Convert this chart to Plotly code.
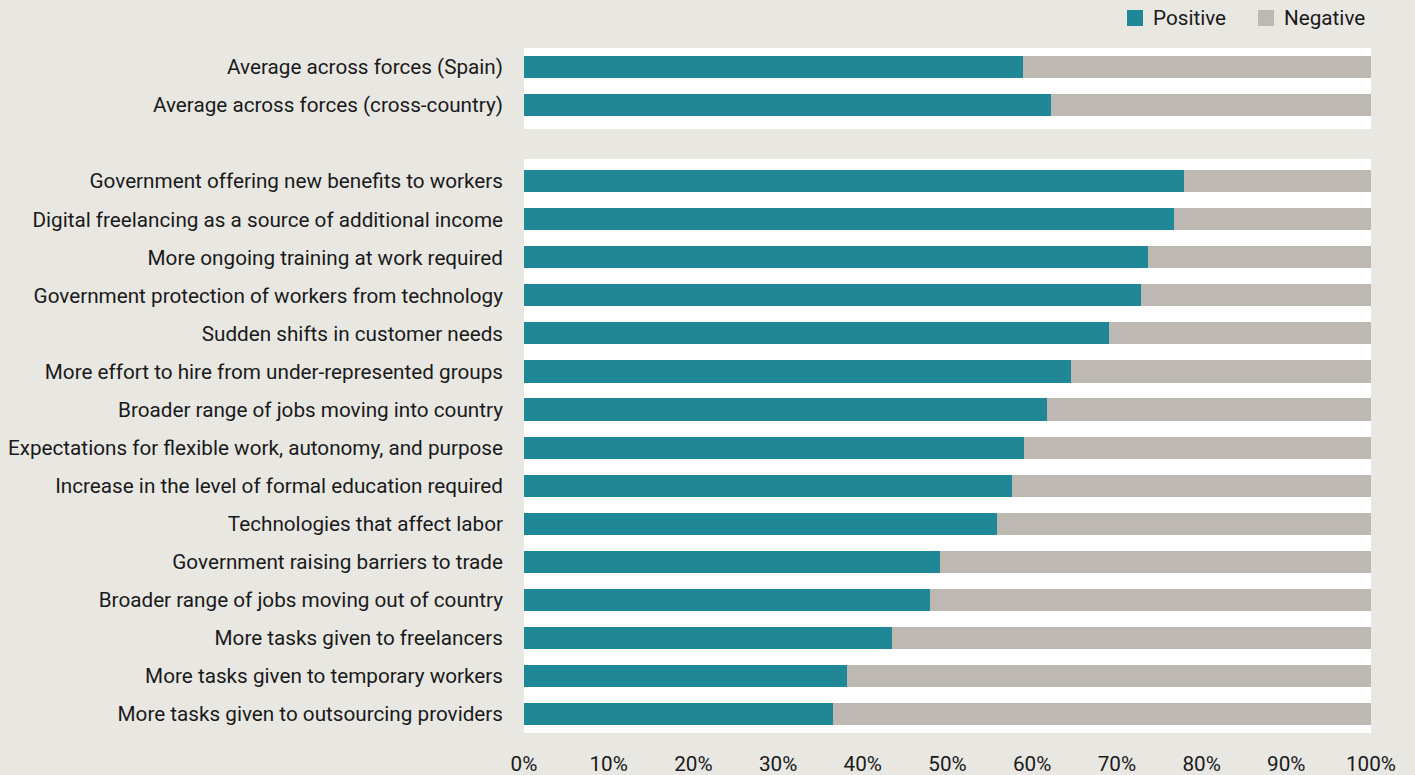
import plotly.graph_objects as go

categories = [
    "Average across forces (Spain)",
    "Average across forces (cross-country)",
    " ",
    "Government offering new benefits to workers",
    "Digital freelancing as a source of additional income",
    "More ongoing training at work required",
    "Government protection of workers from technology",
    "Sudden shifts in customer needs",
    "More effort to hire from under-represented groups",
    "Broader range of jobs moving into country",
    "Expectations for flexible work, autonomy, and purpose",
    "Increase in the level of formal education required",
    "Technologies that affect labor",
    "Government raising barriers to trade",
    "Broader range of jobs moving out of country",
    "More tasks given to freelancers",
    "More tasks given to temporary workers",
    "More tasks given to outsourcing providers",
]
positive = [58.9, 62.2, None, 77.9, 76.7, 73.7, 72.8, 69.1, 64.6, 61.7, 59.0,
            57.6, 55.8, 49.1, 47.9, 43.4, 38.1, 36.5]
negative = [None if p is None else round(100 - p, 1) for p in positive]
series_names = ["Positive", "Negative"]
tick_vals = [0, 10, 20, 30, 40, 50, 60, 70, 80, 90, 100]
tick_text = [f"{v}%" for v in tick_vals]

BG = "#e8e7e2"
TEAL = "#1f8796"
GRAY = "#bdb8b2"
FONT = "Roboto"
FS = 20.7

fig = go.Figure()
fig.add_trace(go.Bar(y=categories, x=positive, orientation="h", name=series_names[0],
                     marker=dict(color=TEAL, line=dict(width=0)), width=0.58))
fig.add_trace(go.Bar(y=categories, x=negative, orientation="h", name=series_names[1],
                     marker=dict(color=GRAY, line=dict(width=0)), width=0.58))

# white panels behind the two groups of bars
fig.add_shape(type="rect", layer="below", xref="paper", x0=0, x1=1, yref="y",
              y0=-0.5, y1=1.63, fillcolor="white", line=dict(width=0))
fig.add_shape(type="rect", layer="below", xref="paper", x0=0, x1=1, yref="y",
              y0=2.42, y1=17.5, fillcolor="white", line=dict(width=0))

# legend (drawn manually, top right)
legend_items = [(series_names[0], TEAL, 0.7119), (series_names[1], GRAY, 0.8666)]
for name, col, x0 in legend_items:
    fig.add_shape(type="rect", xref="paper", yref="paper", x0=x0, x1=x0 + 0.0189,
                  y0=1.0321, y1=1.0555, fillcolor=col, line=dict(width=0))
    fig.add_annotation(xref="paper", yref="paper", x=x0 + 0.0284, y=1.0438,
                       text=name, showarrow=False, xanchor="left", yanchor="middle",
                       font=dict(family=FONT, size=FS, color="#1a1a1a"))

fig.update_layout(
    width=1415, height=775,
    barmode="stack",
    paper_bgcolor=BG, plot_bgcolor=BG,
    margin=dict(l=524, r=44, t=48, b=42, autoexpand=False),
    font=dict(family=FONT, size=FS, color="#1a1a1a"),
    showlegend=False,
)
fig.update_xaxes(range=[0, 100], tickvals=tick_vals, ticktext=tick_text,
                 showgrid=False, zeroline=False, showline=False, ticks="",
                 ticklabelstandoff=16, tickfont=dict(size=FS), automargin=False)
fig.update_yaxes(autorange=False, range=[17.5, -0.5], showgrid=False, zeroline=False,
                 showline=False, ticks="", ticklabelstandoff=20, tickfont=dict(size=FS),
                 automargin=False)

fig.write_html("out.html", config={"displayModeBar": False},
               post_script="document.body.style.margin='0';")
